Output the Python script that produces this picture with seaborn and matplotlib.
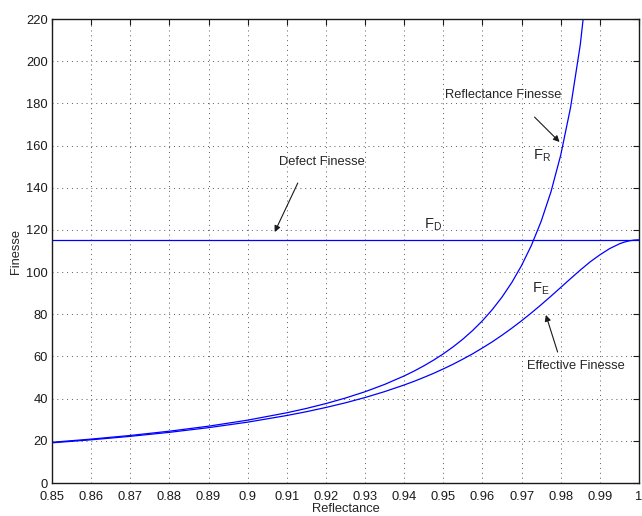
import numpy as np
import pandas as pd
import matplotlib
matplotlib.use('Agg')
import matplotlib.pyplot as plt
import seaborn as sns

# values
refl_r = [0.85, 0.86, 0.87, 0.88, 0.89, 0.90, 0.91, 0.915, 0.92, 0.925, 0.93,
          0.935, 0.94, 0.9425, 0.945, 0.9475, 0.95, 0.9525, 0.955, 0.9575,
          0.96, 0.9625, 0.965, 0.9675, 0.97, 0.9725, 0.975, 0.9775, 0.98,
          0.9825, 0.985, 0.9875]
refl_finesse = [19.31, 20.81, 22.54, 24.56, 26.94, 29.80, 33.30, 35.35, 37.67,
                40.29, 43.28, 46.74, 50.77, 53.04, 55.53, 58.25, 61.24, 64.55,
                68.22, 72.33, 76.95, 82.19, 88.17, 95.08, 103.14, 112.66,
                124.08, 138.05, 155.50, 177.94, 207.86, 249.75]

refl_e = [0.85, 0.86, 0.87, 0.88, 0.89, 0.90, 0.91, 0.915, 0.92, 0.925, 0.93,
          0.935, 0.94, 0.9425, 0.945, 0.9475, 0.95, 0.9525, 0.955, 0.9575,
          0.96, 0.9625, 0.965, 0.9675, 0.97, 0.9725, 0.975, 0.9775, 0.98,
          0.9825, 0.985, 0.9875, 0.99, 0.9925, 0.995, 0.99625, 0.9975,
          0.99875, 1.0]
eff_finesse = [19.05, 20.48, 22.12, 24.02, 26.24, 28.85, 32.00, 33.80, 35.81,
               38.03, 40.53, 43.33, 46.48, 48.19, 50.05, 51.99, 54.10, 56.32,
               58.74, 61.27, 64.04, 66.93, 70.08, 73.41, 76.93, 80.65, 84.54,
               88.58, 92.72, 96.88, 100.96, 104.83, 108.18, 111.14, 113.40,
               114.22, 114.82, 115.18, 115.3]

refl_d = [0.85, 1.0]
defect_finesse = [115.3, 115.3]

x_ticks = [0.85, 0.86, 0.87, 0.88, 0.89, 0.9, 0.91, 0.92, 0.93, 0.94, 0.95,
           0.96, 0.97, 0.98, 0.99, 1.0]
x_ticklabels = ['0.85', '0.86', '0.87', '0.88', '0.89', '0.9', '0.91', '0.92',
                '0.93', '0.94', '0.95', '0.96', '0.97', '0.98', '0.99', '1']
y_ticks = [0, 20, 40, 60, 80, 100, 120, 140, 160, 180, 200, 220]

sns.set_theme(style='white')
plt.rcParams['font.family'] = ['Liberation Sans', 'DejaVu Sans']
fs = 9.3

df_r = pd.DataFrame({'R': refl_r, 'F': refl_finesse})
df_e = pd.DataFrame({'R': refl_e, 'F': eff_finesse})
df_d = pd.DataFrame({'R': refl_d, 'F': defect_finesse})

fig = plt.figure(figsize=(6.42, 5.16), dpi=100)
ax = fig.add_axes([52 / 642, 1 - 483 / 516, 587 / 642, 464 / 516])

for d in (df_r, df_e, df_d):
    sns.lineplot(data=d, x='R', y='F', ax=ax, color='#0000ff', lw=0.9,
                 estimator=None, sort=False)

ax.set_xlim(0.85, 1.0)
ax.set_ylim(0, 220)
ax.set_xticks(x_ticks)
ax.set_xticklabels(x_ticklabels)
ax.set_yticks(y_ticks)
ax.set_xlabel('Reflectance', fontsize=fs, labelpad=0)
ax.set_ylabel('Finesse', fontsize=fs, labelpad=3)
ax.tick_params(direction='in', length=4, width=0.8, top=True, right=True,
               labelsize=fs, colors='k')
ax.tick_params(axis='x', pad=5.5)
ax.tick_params(axis='y', pad=3)
for s in ax.spines.values():
    s.set_color('k')
    s.set_linewidth(1.0)
ax.grid(True, color='0.35', linestyle=(0, (1, 4)), linewidth=0.7)

arrow = dict(arrowstyle='-|>', color='k', lw=0.8, mutation_scale=9,
             shrinkA=0, shrinkB=0)
sub = dict(fontsize=10.5, va='center')

ax.text(0.9503, 184, 'Reflectance Finesse', fontsize=fs, va='center')
ax.annotate('', xy=(0.9797, 161.7), xytext=(0.9733, 173.5), arrowprops=arrow)
ax.text(0.973, 155, r'$\mathregular{F_R}$', **sub)

ax.text(0.908, 152.2, 'Defect Finesse', fontsize=fs, va='center')
ax.annotate('', xy=(0.9069, 119.0), xytext=(0.9128, 142.2), arrowprops=arrow)
ax.text(0.9451, 122.5, r'$\mathregular{F_D}$', **sub)

ax.text(0.9726, 92, r'$\mathregular{F_E}$', **sub)
ax.annotate('', xy=(0.9762, 79.7), xytext=(0.9792, 62.1), arrowprops=arrow)
ax.text(0.9713, 55.5, 'Effective Finesse', fontsize=fs, va='center')

fig.savefig('out.png', dpi=100)
